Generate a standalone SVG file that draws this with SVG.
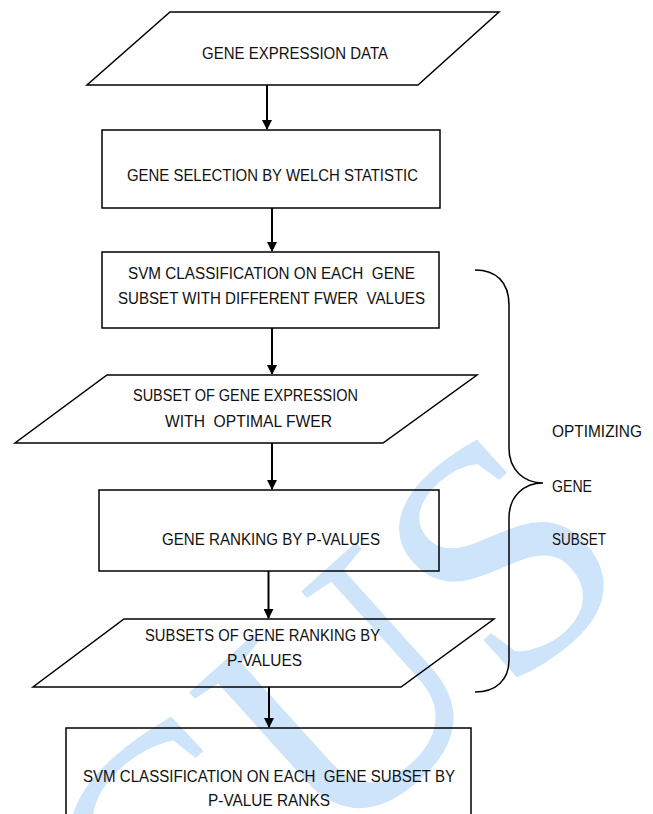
<svg xmlns="http://www.w3.org/2000/svg" width="653" height="814" viewBox="0 0 653 814">
<style>
.shape{fill:none;stroke:#000;stroke-width:1.5}
.conn{stroke:#000;stroke-width:2;fill:none}
.t{font-family:"Liberation Sans",Arial,sans-serif;font-size:16px;fill:#111;white-space:pre}
.wm{font-family:"Liberation Serif","Times New Roman",serif;font-size:330px;fill:#cde4fb}
</style>
<defs>
<marker id="ah" markerWidth="10" markerHeight="10" refX="9" refY="5" orient="auto" markerUnits="userSpaceOnUse">
<path d="M0,0 L10,5 L0,10 Z" fill="#000"/>
</marker>
</defs>
<rect width="653" height="814" fill="#fff"/>
<g id="watermark">
<text class="wm" transform="translate(165,1005) rotate(-42)">CUS</text>
</g>
<g id="connectors">
<line class="conn" x1="267" y1="85" x2="267" y2="129" marker-end="url(#ah)"/>
<line class="conn" x1="272" y1="208" x2="272" y2="251" marker-end="url(#ah)"/>
<line class="conn" x1="272" y1="328" x2="272" y2="374" marker-end="url(#ah)"/>
<line class="conn" x1="272" y1="443" x2="272" y2="489" marker-end="url(#ah)"/>
<line class="conn" x1="268.5" y1="571" x2="268.5" y2="618" marker-end="url(#ah)"/>
<line class="conn" x1="269" y1="687" x2="269" y2="727" marker-end="url(#ah)"/>
<path id="brace" class="shape" d="M475,270 C496,270 509,282 509,305 L509,448 C509,470 524,483 543,483 C524,483 509,496 509,518 L509,660 C509,680 496,692 475,692"/>
</g>
<g id="n1">
<polygon class="shape" points="170,12 499,12 418,85 87,85"/>
<text class="t" x="202" y="59" textLength="186" lengthAdjust="spacingAndGlyphs">GENE EXPRESSION DATA</text>
</g>
<g id="n2">
<rect class="shape" x="102" y="130" width="338" height="78"/>
<text class="t" x="127" y="181" textLength="291" lengthAdjust="spacingAndGlyphs">GENE SELECTION BY WELCH STATISTIC</text>
</g>
<g id="n3">
<rect class="shape" x="102" y="252" width="337" height="76"/>
<text class="t" x="128" y="279" textLength="287" lengthAdjust="spacingAndGlyphs">SVM CLASSIFICATION ON EACH  GENE</text>
<text class="t" x="118" y="304" textLength="307" lengthAdjust="spacingAndGlyphs">SUBSET WITH DIFFERENT FWER  VALUES</text>
</g>
<g id="n4">
<polygon class="shape" points="107,375 477,375 383,443 15,443"/>
<text class="t" x="133" y="401" textLength="225" lengthAdjust="spacingAndGlyphs">SUBSET OF GENE EXPRESSION</text>
<text class="t" x="165" y="427" textLength="167" lengthAdjust="spacingAndGlyphs">WITH  OPTIMAL FWER</text>
</g>
<g id="n5">
<rect class="shape" x="99" y="490" width="340" height="81"/>
<text class="t" x="162" y="545" textLength="218" lengthAdjust="spacingAndGlyphs">GENE RANKING BY P-VALUES</text>
</g>
<g id="n6">
<polygon class="shape" points="124,619 494,619 401,687 33,687"/>
<text class="t" x="145" y="641" textLength="235" lengthAdjust="spacingAndGlyphs">SUBSETS OF GENE RANKING BY</text>
<text class="t" x="227" y="666" textLength="75" lengthAdjust="spacingAndGlyphs">P-VALUES</text>
</g>
<g id="n7">
<rect class="shape" x="66" y="728" width="405" height="100"/>
<text class="t" x="83" y="782" textLength="372" lengthAdjust="spacingAndGlyphs">SVM CLASSIFICATION ON EACH  GENE SUBSET BY</text>
<text class="t" x="208" y="806" textLength="122" lengthAdjust="spacingAndGlyphs">P-VALUE RANKS</text>
</g>
<g id="label">
<text class="t" x="552" y="437" textLength="90" lengthAdjust="spacingAndGlyphs">OPTIMIZING</text>
<text class="t" x="552" y="492" textLength="40" lengthAdjust="spacingAndGlyphs">GENE</text>
<text class="t" x="552" y="545" textLength="54" lengthAdjust="spacingAndGlyphs">SUBSET</text>
</g>
</svg>
